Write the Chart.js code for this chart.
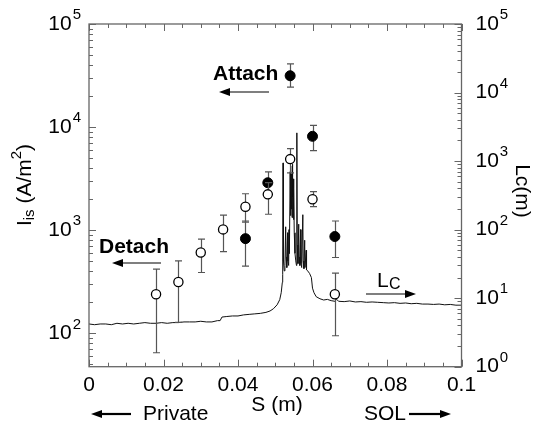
<!DOCTYPE html>
<html>
<head>
<meta charset="utf-8">
<script src="https://cdn.jsdelivr.net/npm/chart.js@4.4.0/dist/chart.umd.min.js"></script>
<style>
  html, body { margin: 0; padding: 0; background: #fff; }
</style>
</head>
<body>
<canvas id="myChart" width="536" height="430"></canvas>
<script>
// ion saturation current, open circles (detached) and filled circles (attached)
const openS  = [0.018, 0.024, 0.030, 0.036, 0.042, 0.048, 0.054, 0.060, 0.066];
const openI  = [240, 315, 610, 1020, 1690, 2230, 4900, 2000, 240];
const openHi = [420, 505, 820, 1400, 2260, 2900, 6200, 2370, 385];
const openLo = [65, 128, 390, 620, 1200, 1430, 3600, 1700, 95];

const fillS  = [0.042, 0.048, 0.054, 0.060, 0.066];
const fillI  = [830, 2890, 31500, 8150, 870];
const fillHi = [1230, 3690, 41000, 10400, 1230];
const fillLo = [450, 2300, 24400, 5930, 545];

// connection length Lc (right axis)
const lcS = [0.0000, 0.0015, 0.0030, 0.0045, 0.0060, 0.0075, 0.0090, 0.0105, 0.0120, 0.0135,
  0.0150, 0.0165, 0.0180, 0.0195, 0.0210, 0.0225, 0.0240, 0.0255, 0.0270, 0.0285,
  0.0300, 0.0315, 0.0330, 0.0345, 0.0352, 0.0357, 0.0370, 0.0385, 0.0400, 0.0415,
  0.0430, 0.0445, 0.0460, 0.0475, 0.0486, 0.0495, 0.0505, 0.0512, 0.0516, 0.0519,
  0.0520, 0.0521, 0.0522, 0.0524, 0.0526, 0.0528, 0.0529, 0.0531, 0.0533, 0.0534,
  0.0536, 0.0537, 0.0538, 0.0540, 0.0541, 0.0542, 0.0543, 0.0544, 0.0545, 0.0546,
  0.0547, 0.0548, 0.0549, 0.0550, 0.0551, 0.0553, 0.0555, 0.0557, 0.0558, 0.0559,
  0.0561, 0.0563, 0.0564, 0.0566, 0.0568, 0.0569, 0.0571, 0.0574, 0.0575, 0.0577,
  0.0579, 0.0580, 0.0583, 0.0584, 0.0587, 0.0592, 0.0597, 0.0600, 0.0604, 0.0610,
  0.0620, 0.0630, 0.0640, 0.0650, 0.0660, 0.0665, 0.0670, 0.0685, 0.0700, 0.0715,
  0.0730, 0.0745, 0.0760, 0.0775, 0.0790, 0.0805, 0.0820, 0.0835, 0.0850, 0.0865,
  0.0880, 0.0895, 0.0910, 0.0925, 0.0940, 0.0955, 0.0970, 0.0985, 0.1000];
const lcM = [4.2, 4.1, 4.2, 4.2, 4.1, 4.3, 4.2, 4.3, 4.2, 4.3,
  4.4, 4.3, 4.3, 4.4, 4.3, 4.4, 4.4, 4.5, 4.5, 4.5,
  4.6, 4.5, 4.5, 4.7, 4.7, 5.3, 5.4, 5.5, 5.5, 5.7,
  5.8, 5.9, 6.0, 6.2, 6.5, 7.0, 8.0, 9.5, 12, 17,
  22, 940, 35, 25, 30, 110, 40, 28, 90, 35,
  30, 100, 45, 700, 160, 850, 200, 650, 150, 900,
  300, 550, 140, 400, 90, 45, 35, 30, 2580, 60,
  32, 120, 40, 30, 100, 32, 28, 165, 35, 27,
  70, 28, 50, 26, 25, 23, 20, 14, 12, 10.5,
  9.8, 9.4, 9.6, 9.2, 9.0, 9.6, 9.0, 8.9, 9.1, 8.8,
  8.9, 8.7, 8.8, 8.7, 8.6, 8.5, 8.6, 8.4, 8.5, 8.3,
  8.4, 8.2, 8.2, 8.1, 8.2, 8.0, 8.1, 7.9, 7.9];

const xTicks = [0, 0.02, 0.04, 0.06, 0.08, 0.1];
const leftDecades = [2, 3, 4, 5];
const rightDecades = [0, 1, 2, 3, 4, 5];

const FONT = '"Liberation Sans", Arial, sans-serif';
const FRAME = '#666';

function pts(xs, ys) { return xs.map((x, i) => ({ x: x, y: ys[i] })); }

function powLabel(ctx, x, y, exp, alignRight) {
  ctx.font = '21px ' + FONT;
  const w10 = ctx.measureText('10').width;
  ctx.font = '15px ' + FONT;
  const we = ctx.measureText(String(exp)).width;
  const x0 = alignRight ? x - w10 - we - 1 : x;
  ctx.textAlign = 'left';
  ctx.textBaseline = 'middle';
  ctx.font = '21px ' + FONT;
  ctx.fillText('10', x0, y);
  ctx.font = '15px ' + FONT;
  ctx.fillText(String(exp), x0 + w10 + 1, y - 9);
}

function arrow(ctx, xTail, xTip, y) {
  const dir = xTip > xTail ? 1 : -1;
  const hl = 11, hw = 4;
  ctx.beginPath();
  ctx.moveTo(xTail, y);
  ctx.lineTo(xTip - dir * hl, y);
  ctx.stroke();
  ctx.beginPath();
  ctx.moveTo(xTip, y);
  ctx.lineTo(xTip - dir * hl, y - hw);
  ctx.lineTo(xTip - dir * hl, y + hw);
  ctx.closePath();
  ctx.fill();
}

const errorBars = {
  id: 'errorBars',
  beforeDatasetDraw(chart, args) {
    const ds = chart.data.datasets[args.index];
    if (!ds.errHi) return;
    const ctx = chart.ctx;
    const xs = chart.scales.x, ys = chart.scales.y;
    ctx.save();
    ctx.strokeStyle = '#555';
    ctx.lineWidth = 1.2;
    ds.data.forEach((p, i) => {
      const px = Math.round(xs.getPixelForValue(p.x)) + 0.5;
      const yh = ys.getPixelForValue(ds.errHi[i]);
      const yl = ys.getPixelForValue(ds.errLo[i]);
      ctx.beginPath();
      ctx.moveTo(px, yh); ctx.lineTo(px, yl);
      ctx.moveTo(px - 3.5, yh); ctx.lineTo(px + 3.5, yh);
      ctx.moveTo(px - 3.5, yl); ctx.lineTo(px + 3.5, yl);
      ctx.stroke();
    });
    ctx.restore();
  }
};

const decor = {
  id: 'decor',
  afterDraw(chart) {
    const ctx = chart.ctx;
    const a = chart.chartArea;
    const xs = chart.scales.x, yl = chart.scales.y, yr = chart.scales.y2;
    ctx.save();
    // frame
    ctx.strokeStyle = FRAME;
    ctx.lineWidth = 1.3;
    ctx.strokeRect(a.left, a.top, a.right - a.left, a.bottom - a.top);
    // inward ticks
    ctx.lineWidth = 1;
    ctx.beginPath();
    for (let i = 0; i <= 20; i++) {
      const px = Math.round(xs.getPixelForValue(i * 0.005)) + 0.5;
      const len = i % 4 === 0 ? 7 : 4;
      ctx.moveTo(px, a.bottom); ctx.lineTo(px, a.bottom - len);
      ctx.moveTo(px, a.top); ctx.lineTo(px, a.top + len);
    }
    for (let e = 1; e <= 5; e++) {
      for (let m = 1; m <= 9; m++) {
        const v = m * Math.pow(10, e);
        if (v < yl.min || v > yl.max) continue;
        const py = Math.round(yl.getPixelForValue(v)) + 0.5;
        ctx.moveTo(a.left, py); ctx.lineTo(a.left + (m === 1 ? 7 : 4), py);
      }
    }
    for (let e = 0; e <= 5; e++) {
      for (let m = 1; m <= 9; m++) {
        const v = m * Math.pow(10, e);
        if (v < yr.min || v > yr.max) continue;
        const py = Math.round(yr.getPixelForValue(v)) + 0.5;
        ctx.moveTo(a.right, py); ctx.lineTo(a.right - (m === 1 ? 7 : 4), py);
      }
    }
    ctx.stroke();

    // axis numbers
    ctx.fillStyle = '#000';
    leftDecades.forEach(e => powLabel(ctx, a.left - 8, yl.getPixelForValue(Math.pow(10, e)), e, true));
    rightDecades.forEach(e => powLabel(ctx, a.right + 14, yr.getPixelForValue(Math.pow(10, e)), e, false));

    // left title  I_is (A/m^2)
    ctx.save();
    ctx.translate(25, 185);
    ctx.rotate(-Math.PI / 2);
    const parts = [
      ['I', 21, 0], ['is', 15, 5], [' (A/m', 21, 0], ['2', 15, -8], [')', 21, 0]
    ];
    let total = 0;
    parts.forEach(p => { ctx.font = p[1] + 'px ' + FONT; total += ctx.measureText(p[0]).width; });
    let cx = -total / 2;
    ctx.textAlign = 'left';
    ctx.textBaseline = 'middle';
    parts.forEach(p => {
      ctx.font = p[1] + 'px ' + FONT;
      ctx.fillText(p[0], cx, p[2]);
      cx += ctx.measureText(p[0]).width;
    });
    ctx.restore();

    // right title Lc(m)
    ctx.save();
    ctx.translate(522, 191);
    ctx.rotate(Math.PI / 2);
    ctx.font = '21px ' + FONT;
    ctx.textAlign = 'center';
    ctx.textBaseline = 'middle';
    ctx.fillText('Lc(m)', 0, 0);
    ctx.restore();

    // x title and region captions
    ctx.font = '21px ' + FONT;
    ctx.textAlign = 'center';
    ctx.textBaseline = 'middle';
    ctx.fillText('S (m)', 277, 405);
    ctx.textAlign = 'left';
    ctx.fillText('Private', 143, 414);
    ctx.fillText('SOL', 364, 414);
    ctx.strokeStyle = '#000';
    ctx.lineWidth = 2.2;
    arrow(ctx, 131, 91, 414);
    arrow(ctx, 409, 451, 414);

    // annotations
    ctx.font = 'bold 21px ' + FONT;
    ctx.fillText('Attach', 213, 74);
    ctx.fillText('Detach', 99, 247);
    ctx.lineWidth = 1.2;
    arrow(ctx, 269, 219, 92);
    arrow(ctx, 161, 112, 263);
    arrow(ctx, 366, 416, 294);
    ctx.font = '21px ' + FONT;
    ctx.fillText('L', 377, 281);
    ctx.font = '16px ' + FONT;
    ctx.fillText('C', 389, 285);
    ctx.restore();
  }
};

new Chart(document.getElementById('myChart'), {
  type: 'scatter',
  data: {
    datasets: [
      {
        label: 'open',
        data: pts(openS, openI),
        errHi: openHi, errLo: openLo,
        yAxisID: 'y',
        pointStyle: 'circle',
        pointRadius: 4.6,
        pointBackgroundColor: '#fff',
        pointBorderColor: '#000',
        pointBorderWidth: 1.3,
        order: 0
      },
      {
        label: 'filled',
        data: pts(fillS, fillI),
        errHi: fillHi, errLo: fillLo,
        yAxisID: 'y',
        pointStyle: 'circle',
        pointRadius: 5,
        pointBackgroundColor: '#000',
        pointBorderColor: '#000',
        pointBorderWidth: 1,
        order: 1
      },
      {
        label: 'Lc',
        data: pts(lcS, lcM),
        yAxisID: 'y2',
        showLine: true,
        pointRadius: 0,
        borderColor: '#111',
        borderWidth: 1,
        order: 2
      }
    ]
  },
  options: {
    responsive: false,
    animation: false,
    devicePixelRatio: 1,
    layout: { padding: { top: 24, left: 0, right: 0, bottom: 0 } },
    plugins: { legend: { display: false }, tooltip: { enabled: false } },
    scales: {
      x: {
        type: 'linear',
        min: 0,
        max: 0.1,
        afterBuildTicks: (scale) => { scale.ticks = xTicks.map(v => ({ value: v })); },
        afterFit: (scale) => { scale.height = 63.3; },
        grid: { display: false, drawTicks: false },
        border: { display: false },
        ticks: {
          color: '#000',
          font: { family: FONT, size: 21 },
          padding: 6,
          maxRotation: 0,
          autoSkip: false,
          callback: (v) => String(v)
        }
      },
      y: {
        type: 'logarithmic',
        position: 'left',
        min: 47.6,
        max: 100000,
        afterFit: (scale) => { scale.width = 89; },
        grid: { display: false },
        border: { display: false },
        ticks: { display: false }
      },
      y2: {
        type: 'logarithmic',
        position: 'right',
        min: 1,
        max: 100000,
        afterFit: (scale) => { scale.width = 74.5; },
        grid: { display: false },
        border: { display: false },
        ticks: { display: false }
      }
    }
  },
  plugins: [errorBars, decor]
});
</script>
</body>
</html>
